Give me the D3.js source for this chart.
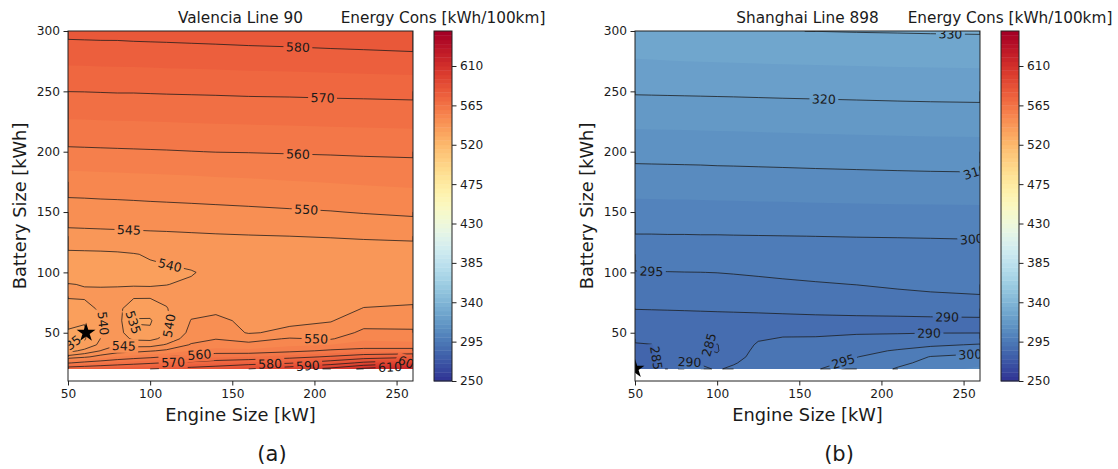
<!DOCTYPE html>
<html>
<head>
<meta charset="utf-8">
<script src="https://cdn.jsdelivr.net/npm/d3@7"></script>
<style>
  body { margin: 0; background: #fff; }
  text { font-family: "DejaVu Sans", sans-serif; fill: #1a1a1a; }
</style>
</head>
<body>
<div id="chart"></div>
<script>
// grid axes (engine size kW, battery size kWh)
const engineSizes = [50, 60, 70, 80, 90, 100, 110, 125, 140, 160, 185, 210, 230, 260];
const batterySizes = [20, 25, 30, 35, 40, 45, 50, 60, 70, 80, 90, 100, 115, 130, 150, 175, 200, 250, 300];

// energy consumption kWh/100km, one row per battery size, one column per engine size
const valenciaCons = [
  [575, 576, 577, 578, 579, 580, 581, 583, 585, 590, 596, 603, 612, 622],
  [559.5, 562, 564, 566, 567.5, 569, 570.5, 572, 574, 576, 579, 585, 592, 598],
  [547, 549, 552, 555, 557, 558.5, 560.3, 562, 564, 565, 567.5, 571, 575, 578],
  [538, 541.5, 545.2, 547.5, 548, 549.5, 551, 555, 557, 556.5, 558.5, 561, 562, 562],
  [534.8, 535.8, 541.5, 544.8, 543.5, 543, 545.5, 550.5, 552.5, 551.5, 554, 555, 557, 557],
  [534.5, 534.6, 540.2, 543, 539, 538.8, 541.5, 548, 549.8, 548, 550.5, 549.5, 554, 553],
  [534.6, 534.2, 539.8, 542.5, 536, 535.8, 539.6, 546.5, 548, 544.6, 546, 547.5, 551, 550.8],
  [536, 535.4, 539.6, 542, 534.6, 534.5, 539.2, 545.2, 546, 544, 544.1, 544.7, 548, 548],
  [538.5, 538.8, 540.6, 541.5, 537, 537.2, 539.8, 543.5, 544, 543.5, 543.4, 543.8, 545.1, 545.4],
  [540.3, 540.4, 541, 540.8, 540.6, 540.5, 540.9, 541.5, 542, 542.3, 542.6, 543, 544, 544.2],
  [540.1, 539.9, 539.7, 539.8, 539.9, 539.9, 539.95, 540.4, 541, 541.8, 542.3, 542.6, 543.2, 543.4],
  [538.8, 538.8, 538.9, 538.9, 539, 539.1, 539.3, 539.8, 540.8, 541.8, 542.3, 542.6, 543, 543.1],
  [539, 539.1, 539.2, 539.4, 539.8, 540.4, 540.9, 541.4, 542, 542.5, 542.8, 543, 543.2, 543.4],
  [543.6, 543.7, 543.8, 543.9, 544, 544.1, 544.2, 544.4, 544.6, 544.8, 545, 545.2, 545.4, 545.6],
  [547.6, 547.7, 547.8, 547.9, 548, 548.2, 548.3, 548.5, 548.7, 549, 549.4, 549.8, 550.3, 551],
  [552.6, 552.7, 552.9, 553, 553.2, 553.3, 553.5, 553.7, 554, 554.3, 554.8, 555.2, 555.6, 556],
  [559.1, 559.2, 559.3, 559.4, 559.5, 559.6, 559.7, 559.9, 560.1, 560.2, 560.4, 560.6, 560.8, 561],
  [570.05, 570.1, 570.2, 570.3, 570.3, 570.4, 570.5, 570.6, 570.7, 570.9, 571, 571.2, 571.3, 571.5],
  [581.6, 581.7, 581.8, 581.8, 582, 582.1, 582.2, 582.4, 582.6, 582.9, 583.2, 583.6, 583.9, 584.4]
];

const shanghaiCons = [
  [283.0, 283.8, 287.5, 291.5, 291.0, 289.5, 291.0, 293.0, 293.8, 294.8, 296.5, 300.5, 303.0, 306.0],
  [283.3, 284.0, 287.0, 290.5, 289.5, 287.5, 289.5, 292.5, 293.2, 294.0, 295.8, 298.8, 301.5, 303.5],
  [283.8, 284.4, 286.5, 289.3, 287.0, 285.6, 288.0, 292.0, 292.5, 293.0, 294.9, 297.3, 300.2, 301.5],
  [284.2, 284.7, 286.2, 288.0, 285.6, 284.7, 287.5, 291.3, 291.8, 292.0, 293.5, 295.5, 297.2, 298.5],
  [284.7, 284.9, 286.2, 287.0, 285.2, 284.8, 288.0, 290.4, 291.0, 291.0, 291.8, 293.0, 294.2, 295.4],
  [285.6, 285.9, 286.8, 287.3, 286.0, 286.2, 288.8, 289.7, 290.2, 290.2, 290.8, 291.0, 291.5, 292.2],
  [286.6, 286.9, 287.5, 288.0, 288.0, 288.3, 288.6, 289.3, 289.5, 289.6, 289.7, 289.8, 289.9, 289.9],
  [288.5, 288.6, 288.7, 288.8, 288.9, 289.0, 289.05, 289.1, 289.2, 289.25, 289.3, 289.3, 289.35, 289.4],
  [290.1, 290.15, 290.2, 290.25, 290.3, 290.35, 290.4, 290.5, 290.6, 290.8, 291.0, 291.2, 291.4, 291.6],
  [291.5, 291.6, 291.7, 291.8, 291.9, 292.0, 292.1, 292.3, 292.6, 293.0, 293.6, 294.2, 294.5, 294.8],
  [293.2, 293.3, 293.4, 293.5, 293.6, 293.7, 293.8, 294.0, 294.3, 294.7, 295.05, 295.5, 295.8, 296.0],
  [294.8, 294.85, 294.9, 294.95, 294.98, 295.05, 295.2, 295.5, 295.8, 296.0, 296.3, 296.6, 296.8, 297.0],
  [297.3, 297.35, 297.4, 297.45, 297.5, 297.55, 297.6, 297.75, 297.9, 298.1, 298.3, 298.4, 298.5, 298.6],
  [299.7, 299.7, 299.75, 299.75, 299.8, 299.8, 299.85, 299.9, 299.95, 300.02, 300.1, 300.15, 300.2, 300.3],
  [303.1, 303.15, 303.2, 303.2, 303.25, 303.3, 303.35, 303.45, 303.5, 303.6, 303.7, 303.8, 303.85, 303.9],
  [307.4, 307.45, 307.5, 307.55, 307.6, 307.7, 307.75, 307.85, 307.95, 308.1, 308.25, 308.4, 308.5, 308.6],
  [311.7, 311.75, 311.8, 311.85, 311.9, 312.0, 312.05, 312.15, 312.25, 312.4, 312.55, 312.7, 312.8, 312.9],
  [320.5, 320.55, 320.6, 320.65, 320.7, 320.75, 320.8, 320.9, 321.0, 321.1, 321.25, 321.4, 321.5, 321.6],
  [328.8, 329.0, 329.2, 329.4, 329.5, 329.6, 329.7, 329.8, 329.9, 330.05, 330.2, 330.3, 330.4, 330.5]
];

// contour levels and labels [level, engine, battery near the label]
const fillLevels = d3.range(250, 651, 5);
const valenciaLines = [535, 540, 545, 550, 560, 570, 580, 590, 600, 610];
const shanghaiLines = [285, 290, 295, 300, 310, 320, 330];
const valenciaLabels = [
  [580, 190, 289], [570, 205, 247], [560, 190, 199], [550, 195, 153], [545, 87, 132],
  [540, 112, 106], [540, 70, 58], [535, 51, 42], [535, 88, 58], [540, 111, 56],
  [545, 84, 39], [550, 201, 46], [560, 130, 31], [570, 114, 25], [580, 173, 23],
  [590, 196, 23], [610, 246, 21], [600, 258, 24]
];
const shanghaiLabels = [
  [330, 242, 297], [320, 165, 245], [310, 257, 184], [300, 255, 127], [295, 60, 101],
  [290, 240, 64], [290, 229, 48], [300, 254, 33], [295, 177, 25], [285, 57, 28],
  [290, 83, 25], [285, 94, 40]
];
const valenciaBest = [61, 50];
const shanghaiBest = [50, 20];

const xTicks = [50, 100, 150, 200, 250];
const yTicks = [50, 100, 150, 200, 250, 300];
const cbarTicks = [250, 295, 340, 385, 430, 475, 520, 565, 610];

const panels = [
  { key: "a", title: "Valencia Line 90", caption: "(a)", grid: valenciaCons, lines: valenciaLines, labels: valenciaLabels, best: valenciaBest, left: 68 },
  { key: "b", title: "Shanghai Line 898", caption: "(b)", grid: shanghaiCons, lines: shanghaiLines, labels: shanghaiLabels, best: shanghaiBest, left: 635 }
];

const width = 1118, height = 469;
const plotTop = 31, plotBottom = 381, plotW = 345;

const svg = d3.select("#chart").append("svg")
  .attr("width", width)
  .attr("height", height);

function bandColor(lo) {
  const mid = lo + 2.5;
  return d3.interpolateRdYlBu(1 - (mid - 252.5) / 395);
}

// contour grid coordinate -> data value (samples sit at i + 0.5)
function gridCoord(arr, c) {
  const k = Math.max(0, Math.min(arr.length - 1, c - 0.5));
  const i = Math.min(Math.floor(k), arr.length - 2);
  return arr[i] + (arr[i + 1] - arr[i]) * (k - i);
}

panels.forEach(p => {
  const x = d3.scaleLinear().domain([50, 260]).range([p.left, p.left + plotW]);
  const y = d3.scaleLinear().domain([10, 300]).range([plotBottom, plotTop]);
  const nx = engineSizes.length, ny = batterySizes.length;
  const values = p.grid.flat();
  const px = c => x(gridCoord(engineSizes, c));
  const py = c => y(gridCoord(batterySizes, c));
  const path = d3.geoPath(d3.geoTransform({
    point(a, b) { this.stream.point(px(a), py(b)); }
  }));
  const contours = d3.contours().size([nx, ny]);

  const defs = svg.append("defs");
  defs.append("clipPath").attr("id", "clip-" + p.key)
    .append("rect")
    .attr("x", x(50)).attr("y", plotTop)
    .attr("width", plotW).attr("height", plotBottom - plotTop);
  const mask = defs.append("mask").attr("id", "mask-" + p.key)
    .attr("maskUnits", "userSpaceOnUse")
    .attr("x", 0).attr("y", 0).attr("width", width).attr("height", height);
  mask.append("rect").attr("width", width).attr("height", height).attr("fill", "white");

  const plot = svg.append("g").attr("clip-path", `url(#clip-${p.key})`);

  // filled contours
  plot.append("g")
    .selectAll("path")
    .data(contours.thresholds(fillLevels)(values))
    .join("path")
    .attr("d", path)
    .attr("fill", d => bandColor(d.value));

  // contour lines without the grid border
  const onBorder = q => q[0] === 0 || q[0] === nx || q[1] === 0 || q[1] === ny;
  function isolines(level) {
    const mp = contours.contour(values, level);
    const out = [];
    mp.coordinates.forEach(poly => poly.forEach(ring => {
      const runs = [];
      let cur = null;
      for (let i = 0; i < ring.length - 1; i++) {
        const a = ring[i], b = ring[i + 1];
        if (onBorder(a) && onBorder(b)) { cur = null; continue; }
        if (!cur) { cur = [a]; runs.push(cur); }
        cur.push(b);
      }
      const n = ring.length;
      const wraps = !(onBorder(ring[0]) && onBorder(ring[1])) && !(onBorder(ring[n - 2]) && onBorder(ring[n - 1]));
      if (runs.length > 1 && wraps) {
        const last = runs.pop();
        runs[0] = last.concat(runs[0].slice(1));
      }
      runs.forEach(r => out.push(r.map(q => [px(q[0]), py(q[1])])));
    }));
    return out;
  }

  const lineSets = new Map(p.lines.map(l => [l, isolines(l)]));
  const lineGen = d3.line();
  const lineG = plot.append("g")
    .attr("mask", `url(#mask-${p.key})`)
    .attr("fill", "none")
    .attr("stroke", "#1a1a1a")
    .attr("stroke-opacity", 0.85)
    .attr("stroke-width", 0.9);
  lineSets.forEach(lines => {
    lines.forEach(l => lineG.append("path").attr("d", lineGen(l)));
  });

  // inline labels
  function placeLabel(lines, ex, by) {
    const hx = x(ex), hy = y(by);
    let best = null;
    lines.forEach(line => {
      for (let i = 0; i < line.length - 1; i++) {
        const [x0, y0] = line[i], [x1, y1] = line[i + 1];
        const dx = x1 - x0, dy = y1 - y0, l2 = dx * dx + dy * dy;
        let t = l2 ? ((hx - x0) * dx + (hy - y0) * dy) / l2 : 0;
        t = Math.max(0, Math.min(1, t));
        const qx = x0 + t * dx, qy = y0 + t * dy;
        const d = (qx - hx) ** 2 + (qy - hy) ** 2;
        if (!best || d < best.d) best = { d, line, i, t, qx, qy };
      }
    });
    if (!best) return null;
    const pts = best.line;
    const cum = [0];
    for (let i = 1; i < pts.length; i++) {
      cum.push(cum[i - 1] + Math.hypot(pts[i][0] - pts[i - 1][0], pts[i][1] - pts[i - 1][1]));
    }
    const total = cum[cum.length - 1];
    const s = cum[best.i] + best.t * (cum[best.i + 1] - cum[best.i]);
    const at = s2 => {
      s2 = Math.max(0, Math.min(total, s2));
      let i = d3.bisectRight(cum, s2) - 1;
      i = Math.max(0, Math.min(pts.length - 2, i));
      const seg = cum[i + 1] - cum[i] || 1;
      const f = (s2 - cum[i]) / seg;
      return [pts[i][0] + f * (pts[i + 1][0] - pts[i][0]), pts[i][1] + f * (pts[i + 1][1] - pts[i][1])];
    };
    const a = at(s - 10), b = at(s + 10);
    let ang = Math.atan2(b[1] - a[1], b[0] - a[0]) * 180 / Math.PI;
    if (ang > 90) ang -= 180;
    if (ang < -90) ang += 180;
    return { x: best.qx, y: best.qy, ang };
  }

  const labelG = plot.append("g");
  p.labels.forEach(([level, ex, by]) => {
    const pos = placeLabel(lineSets.get(level), ex, by);
    if (!pos) return;
    const tf = `translate(${pos.x},${pos.y}) rotate(${pos.ang})`;
    const t = labelG.append("text")
      .attr("transform", tf)
      .attr("text-anchor", "middle")
      .attr("dy", "0.36em")
      .style("font-size", "12.5px")
      .text(level);
    const w = t.node().getComputedTextLength() + 5;
    mask.append("rect")
      .attr("transform", tf)
      .attr("x", -w / 2).attr("y", -7)
      .attr("width", w).attr("height", 14)
      .attr("fill", "black");
  });

  // optimum marker
  plot.append("path")
    .attr("d", d3.symbol(d3.symbolStar, 110)())
    .attr("transform", `translate(${x(p.best[0])},${y(p.best[1])})`)
    .attr("fill", "#000");

  // axes
  const xAxis = svg.append("g")
    .attr("transform", `translate(0,${plotBottom})`)
    .call(d3.axisBottom(x).tickValues(xTicks).tickSize(4.5).tickPadding(3.5));
  const yAxis = svg.append("g")
    .attr("transform", `translate(${x(50)},0)`)
    .call(d3.axisLeft(y).tickValues(yTicks).tickSize(4.5).tickPadding(3.5));
  [xAxis, yAxis].forEach(ax => {
    ax.select(".domain").remove();
    ax.selectAll("line").attr("stroke", "#222");
    ax.selectAll("text").style("font-size", "12.2px").attr("fill", "#1a1a1a");
  });
  svg.append("rect")
    .attr("x", x(50)).attr("y", plotTop)
    .attr("width", plotW).attr("height", plotBottom - plotTop)
    .attr("fill", "none").attr("stroke", "#222").attr("stroke-width", 1);

  // titles
  svg.append("text")
    .attr("x", (x(50) + x(260)) / 2).attr("y", 23)
    .attr("text-anchor", "middle")
    .style("font-size", "15.3px")
    .text(p.title);
  svg.append("text")
    .attr("x", (x(50) + x(260)) / 2).attr("y", 421)
    .attr("text-anchor", "middle")
    .style("font-size", "17.8px")
    .text("Engine Size [kW]");
  svg.append("text")
    .attr("transform", `translate(${p.left - 42},${(plotTop + plotBottom) / 2}) rotate(-90)`)
    .attr("text-anchor", "middle")
    .style("font-size", "17.8px")
    .text("Battery Size [kWh]");
  svg.append("text")
    .attr("x", p.left + 204).attr("y", 461)
    .attr("text-anchor", "middle")
    .style("font-size", "21px")
    .text(p.caption);

  // colorbar
  const cx = p.left + 366, cw = 18;
  const cy = d3.scaleLinear().domain([250, 650]).range([plotBottom, plotTop]);
  svg.append("g")
    .selectAll("rect")
    .data(fillLevels.slice(0, -1))
    .join("rect")
    .attr("x", cx).attr("width", cw)
    .attr("y", d => cy(d + 5))
    .attr("height", d => cy(d) - cy(d + 5) + 0.4)
    .attr("fill", d => bandColor(d));
  const cAxis = svg.append("g")
    .attr("transform", `translate(${cx + cw},0)`)
    .call(d3.axisRight(cy).tickValues(cbarTicks).tickSize(4.5).tickPadding(3.5));
  cAxis.select(".domain").remove();
  cAxis.selectAll("line").attr("stroke", "#222");
  cAxis.selectAll("text").style("font-size", "12.2px").attr("fill", "#1a1a1a");
  svg.append("rect")
    .attr("x", cx).attr("y", plotTop)
    .attr("width", cw).attr("height", plotBottom - plotTop)
    .attr("fill", "none").attr("stroke", "#222").attr("stroke-width", 1);
  svg.append("text")
    .attr("x", cx + cw / 2).attr("y", 23)
    .attr("text-anchor", "middle")
    .style("font-size", "15.3px")
    .text("Energy Cons [kWh/100km]");
});
</script>
</body>
</html>
